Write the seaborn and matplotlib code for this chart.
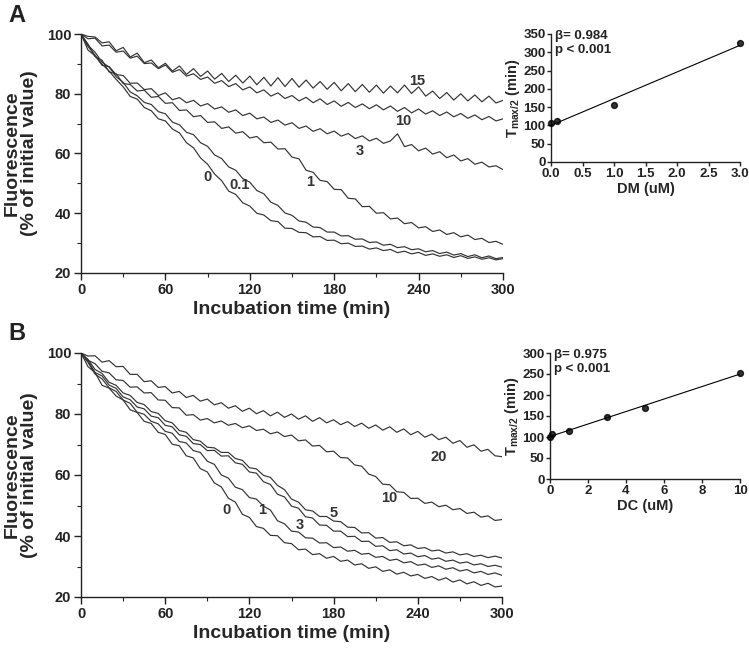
import matplotlib
matplotlib.use("Agg")
import matplotlib.pyplot as plt
from matplotlib.ticker import MultipleLocator, FormatStrFormatter
import numpy as np
import pandas as pd
import seaborn as sns

# ── Data ──────────────────────────────────────────────────────────────────────

TIME_MIN = np.arange(0, 301, 5)

# Panel A: fluorescence traces (% of initial value) for DM concentrations (uM)
DM_CONC = ["0", "0.1", "1", "3", "10", "15"]
A_0 = [100.0, 95.8, 92.9, 89.9, 87.6, 84.8, 82.3, 79.1, 78.2, 75.4,
       74.3, 71.6, 70.9, 68.2, 66.9, 63.6, 61.9, 58.5, 56.4, 53.1,
       50.9, 47.4, 46.3, 43.5, 42.4, 40.0, 39.4, 37.5, 37.2, 35.0,
       34.9, 33.6, 33.5, 32.1, 32.2, 30.9, 31.0, 29.8, 30.0, 28.9,
       29.0, 28.0, 28.4, 27.5, 27.9, 26.8, 27.3, 26.4, 26.9, 25.9,
       26.4, 25.6, 26.1, 25.2, 25.8, 24.9, 25.4, 24.6, 25.1, 24.4,
       24.8]
A_01 = [100.0, 96.2, 93.9, 90.6, 88.9, 85.7, 83.8, 80.6, 79.3, 77.1,
        76.4, 74.0, 73.3, 70.5, 69.6, 67.1, 66.3, 63.6, 62.4, 59.5,
        58.3, 55.5, 54.4, 51.6, 50.4, 47.6, 46.5, 43.7, 42.6, 40.1,
        39.3, 37.4, 37.0, 35.4, 35.2, 33.7, 33.7, 32.4, 32.5, 31.3,
        31.4, 30.2, 30.4, 29.3, 29.6, 28.5, 28.8, 27.8, 28.1, 27.1,
        27.5, 26.5, 27.0, 26.0, 26.5, 25.5, 26.1, 25.1, 25.7, 24.8,
        25.2]
A_1 = [100.0, 96.6, 92.4, 91.2, 87.3, 86.7, 83.4, 83.1, 80.9, 81.2,
       78.8, 79.1, 76.8, 77.0, 74.4, 74.6, 72.3, 72.7, 70.4, 70.6,
       68.4, 68.9, 66.8, 67.3, 65.2, 65.7, 63.6, 63.8, 61.5, 61.6,
       58.8, 58.2, 54.4, 53.7, 51.0, 50.6, 48.0, 47.9, 45.0, 44.8,
       42.2, 42.3, 40.0, 40.2, 38.1, 38.4, 36.5, 36.9, 35.1, 35.5,
       33.9, 34.4, 32.9, 33.5, 32.1, 32.7, 31.2, 31.6, 30.2, 30.6,
       29.6]
A_3 = [100.0, 94.6, 92.7, 89.5, 89.1, 86.4, 86.1, 83.5, 83.6, 81.4,
       81.7, 79.4, 80.3, 78.0, 78.7, 77.0, 77.8, 75.9, 76.7, 74.9,
       75.6, 73.8, 74.6, 72.7, 73.5, 71.6, 72.2, 70.4, 71.2, 69.5,
       70.3, 68.4, 69.2, 67.4, 68.3, 66.6, 67.5, 65.8, 66.7, 65.0,
       65.9, 64.2, 65.1, 63.4, 64.2, 66.6, 62.3, 63.0, 60.9, 61.8,
       59.8, 60.6, 58.6, 59.5, 57.5, 58.3, 56.4, 57.1, 55.5, 55.9,
       54.6]
A_10 = [100.0, 98.4, 98.6, 96.0, 96.3, 93.9, 94.3, 91.9, 92.6, 90.1,
        90.3, 88.4, 89.6, 87.2, 88.1, 85.9, 86.7, 84.8, 85.6, 83.5,
        84.4, 82.4, 83.4, 81.3, 82.3, 80.3, 81.3, 79.2, 80.3, 78.4,
        79.4, 77.6, 78.8, 77.0, 78.3, 76.4, 77.6, 75.8, 77.1, 75.4,
        76.6, 75.0, 76.3, 74.6, 75.9, 74.1, 75.4, 73.6, 74.9, 73.2,
        74.3, 72.7, 73.9, 72.3, 73.4, 71.8, 72.9, 71.3, 72.4, 70.9,
        71.6]
A_15 = [100.0, 99.2, 99.0, 97.0, 97.4, 94.4, 95.5, 92.3, 93.6, 90.4,
        91.3, 88.7, 90.2, 87.6, 89.3, 86.5, 88.4, 85.8, 87.6, 84.9,
        86.8, 84.1, 86.2, 83.6, 85.9, 83.0, 85.5, 82.6, 85.4, 82.4,
        85.1, 82.2, 84.6, 81.9, 84.1, 81.5, 83.8, 81.0, 83.4, 80.7,
        83.1, 80.5, 82.9, 80.2, 82.6, 80.3, 82.9, 80.1, 82.3, 79.2,
        80.9, 78.4, 80.4, 77.9, 80.0, 77.6, 79.6, 77.3, 79.2, 76.9,
        77.8]
DM_TRACES = [A_0, A_01, A_1, A_3, A_10, A_15]

# Panel A inset: Tmax/2 vs DM
DM_UM = [0.0, 0.1, 1.0, 3.0]
DM_TMAX = [108, 112, 155, 325]

# Panel B: fluorescence traces for DC concentrations (uM)
DC_CONC = ["0", "1", "3", "5", "10", "20"]
B_0 = [100.0, 95.5, 93.6, 89.4, 88.5, 85.9, 84.6, 81.4, 80.5, 77.6,
       76.9, 74.0, 73.3, 70.1, 69.6, 66.3, 65.6, 62.1, 61.0, 57.4,
       56.1, 52.4, 51.1, 47.1, 46.1, 43.1, 42.5, 40.2, 40.1, 37.8,
       37.5, 35.5, 35.7, 33.9, 34.2, 32.7, 33.3, 31.7, 32.1, 30.5,
       30.9, 29.4, 29.9, 28.4, 28.9, 27.5, 28.1, 26.9, 27.4, 26.1,
       26.7, 25.5, 26.3, 24.9, 25.6, 24.3, 25.0, 23.8, 24.5, 23.3,
       23.6]
B_1 = [100.0, 96.9, 93.1, 91.5, 88.6, 87.4, 84.6, 83.5, 80.6, 79.9,
       77.6, 76.8, 74.3, 73.7, 71.0, 70.5, 68.0, 67.4, 64.5, 63.5,
       60.0, 59.0, 56.0, 55.2, 52.6, 52.1, 49.8, 48.5, 45.0, 44.0,
       41.6, 41.3, 39.4, 39.3, 37.7, 37.8, 36.2, 36.4, 35.0, 35.3,
       34.0, 34.3, 33.0, 33.3, 32.0, 32.4, 31.2, 31.6, 30.4, 30.8,
       29.7, 30.2, 29.1, 29.6, 28.5, 29.0, 27.9, 28.4, 27.4, 27.9,
       27.1]
B_3 = [100.0, 97.4, 93.6, 92.5, 89.5, 88.4, 85.6, 84.7, 82.3, 81.7,
       79.3, 78.8, 76.3, 75.8, 73.2, 72.7, 70.3, 70.0, 68.0, 68.1,
       66.2, 66.3, 64.0, 63.5, 61.0, 60.6, 57.8, 56.9, 53.7, 52.8,
       49.8, 49.1, 46.3, 45.9, 43.6, 43.5, 41.6, 41.6, 39.8, 39.9,
       38.2, 38.3, 36.6, 36.8, 35.2, 35.5, 34.1, 34.4, 33.2, 33.6,
       32.4, 32.8, 31.7, 32.1, 31.1, 31.5, 30.5, 30.9, 30.0, 30.4,
       29.8]
B_5 = [100.0, 97.9, 94.6, 93.3, 90.4, 89.4, 86.9, 86.1, 83.8, 83.1,
       80.8, 80.2, 77.8, 77.1, 74.6, 74.0, 71.6, 71.1, 69.1, 68.9,
       67.4, 67.4, 65.4, 64.8, 62.4, 62.0, 59.9, 59.2, 56.6, 55.2,
       52.1, 51.1, 48.6, 48.2, 46.4, 46.4, 44.9, 44.7, 42.9, 42.8,
       41.0, 41.1, 39.3, 39.5, 37.9, 38.1, 36.8, 37.1, 35.9, 36.2,
       35.1, 35.4, 34.4, 34.8, 33.8, 34.2, 33.3, 33.7, 32.9, 33.4,
       32.8]
B_10 = [100.0, 97.6, 96.5, 94.0, 93.5, 91.2, 91.0, 88.8, 88.9, 86.9,
        87.0, 84.6, 84.5, 82.1, 82.0, 79.6, 79.8, 78.0, 78.5, 77.1,
        77.7, 76.3, 76.9, 75.5, 76.1, 74.6, 75.0, 73.5, 74.1, 72.6,
        73.1, 71.2, 71.5, 69.5, 69.7, 67.6, 67.8, 65.7, 65.6, 63.3,
        62.9, 60.3, 59.5, 57.0, 56.8, 54.5, 54.3, 52.3, 52.4, 50.7,
        51.1, 49.6, 50.1, 48.6, 49.0, 47.4, 47.8, 46.2, 46.6, 45.1,
        45.4]
B_20 = [100.0, 99.0, 99.1, 97.0, 97.5, 95.5, 95.6, 93.0, 93.0, 90.6,
        90.9, 88.7, 89.0, 86.9, 87.4, 85.4, 86.1, 84.2, 84.9, 83.0,
        83.7, 81.9, 82.7, 80.9, 81.9, 80.1, 81.1, 79.4, 80.6, 78.9,
        80.0, 78.3, 79.4, 77.6, 78.8, 77.1, 78.1, 76.5, 77.5, 75.9,
        77.0, 75.3, 76.4, 74.7, 75.8, 74.0, 75.1, 73.2, 74.3, 72.4,
        73.4, 71.6, 72.4, 70.4, 71.3, 69.1, 69.9, 67.8, 68.4, 66.3,
        66.0]
DC_TRACES = [B_0, B_1, B_3, B_5, B_10, B_20]

# Panel B inset: Tmax/2 vs DC
DC_UM = [0.0, 0.1, 1.0, 3.0, 5.0, 10.0]
DC_TMAX = [100, 106, 115, 148, 170, 252]

# ── Style ─────────────────────────────────────────────────────────────────────

sns.set_style("ticks")
plt.rcParams["font.family"] = ["Liberation Sans", "DejaVu Sans"]
plt.rcParams["font.weight"] = "bold"
plt.rcParams["axes.labelweight"] = "bold"
plt.rcParams["mathtext.fontset"] = "custom"
plt.rcParams["mathtext.rm"] = "Liberation Sans:bold"
plt.rcParams["mathtext.bf"] = "Liberation Sans:bold"
plt.rcParams["axes.linewidth"] = 1.0
plt.rcParams["axes.edgecolor"] = "#222222"
plt.rcParams["xtick.color"] = "#222222"
plt.rcParams["ytick.color"] = "#222222"
plt.rcParams["text.color"] = "#222222"

TRACE_COLOR = "#333333"

fig = plt.figure(figsize=(7.49, 6.48), dpi=100)


def traces_frame(traces, concs):
    rows = []
    for conc, vals in zip(concs, traces):
        rows.append(pd.DataFrame({"time": TIME_MIN, "fluor": vals, "conc": conc}))
    return pd.concat(rows, ignore_index=True)


def draw_main(ax, traces, concs, labels):
    df = traces_frame(traces, concs)
    sns.lineplot(data=df, x="time", y="fluor", units="conc", estimator=None,
                 color=TRACE_COLOR, linewidth=0.85, ax=ax, legend=False)
    ax.set_xlim(0, 300)
    ax.set_ylim(20, 100)
    ax.set_xticks([0, 60, 120, 180, 240, 300])
    ax.set_yticks([20, 40, 60, 80, 100])
    ax.xaxis.set_minor_locator(MultipleLocator(30))
    ax.yaxis.set_minor_locator(MultipleLocator(10))
    ax.tick_params(which="major", length=5, width=1.0, labelsize=10.5, pad=2)
    ax.tick_params(which="minor", length=3, width=0.8)
    ax.set_xlabel("Incubation time (min)", fontsize=14, labelpad=3)
    ax.set_ylabel("Fluorescence\n(% of initial value)", fontsize=14,
                  labelpad=6, linespacing=1.05)
    sns.despine(ax=ax)
    # concentration tags next to each trace
    for text, (x, y) in labels.items():
        ax.text(x, y, text, fontsize=10.5, fontweight="bold", color="#333333",
                ha="center", va="center")


def draw_inset(ax, x, y, xlabel, xmax, xstep, ymax, beta):
    sns.regplot(x=x, y=y, ci=None, color="black", ax=ax, truncate=True,
                scatter_kws={"s": 18, "clip_on": False, "zorder": 3},
                line_kws={"linewidth": 0.8})
    ax.set_xlim(0, xmax)
    ax.set_ylim(0, ymax)
    ax.xaxis.set_major_locator(MultipleLocator(xstep))
    ax.yaxis.set_major_locator(MultipleLocator(50))
    if xstep < 1:
        ax.xaxis.set_major_formatter(FormatStrFormatter("%.1f"))
    ax.tick_params(length=3, width=1.0, labelsize=9.5, pad=1)
    ax.set_xlabel(xlabel, fontsize=10.5, labelpad=2)
    ax.set_ylabel(r"T$_{\mathrm{max/2}}$ (min)", fontsize=10.5, labelpad=1)
    sns.despine(ax=ax)
    ax.text(0.02, 1.03, f"\u03b2= {beta}\np < 0.001", transform=ax.transAxes,
            fontsize=9.5, fontweight="bold", va="top", ha="left",
            linespacing=1.15)


W, H = 749.0, 648.0

ax_a = fig.add_axes([81 / W, 1 - 273 / H, 422 / W, 239 / H])
draw_main(ax_a, DM_TRACES, DM_CONC,
          {"15": (239, 84.3), "10": (229, 70.8), "3": (198, 61.0),
           "1": (163, 50.5), "0.1": (113, 49.5), "0": (90, 52.0)})

ax_b = fig.add_axes([81 / W, 1 - 597 / H, 421 / W, 244 / H])
draw_main(ax_b, DC_TRACES, DC_CONC,
          {"20": (255, 66.0), "10": (220, 52.5), "5": (180, 47.5),
           "3": (156, 43.5), "1": (129, 48.5), "0": (104, 48.5)})

ax_ai = fig.add_axes([551 / W, 1 - 162 / H, 189 / W, 128 / H])
draw_inset(ax_ai, DM_UM, DM_TMAX, "DM (uM)", 3.0, 0.5, 350, "0.984")

ax_bi = fig.add_axes([550 / W, 1 - 479 / H, 190 / W, 126 / H])
draw_inset(ax_bi, DC_UM, DC_TMAX, "DC (uM)", 10, 2, 300, "0.975")

fig.text(8 / W, 1 - 22 / H, "A", fontsize=17, fontweight="bold", va="baseline")
fig.text(8 / W, 1 - 340 / H, "B", fontsize=17, fontweight="bold", va="baseline")

fig.savefig("out.png", dpi=100)
